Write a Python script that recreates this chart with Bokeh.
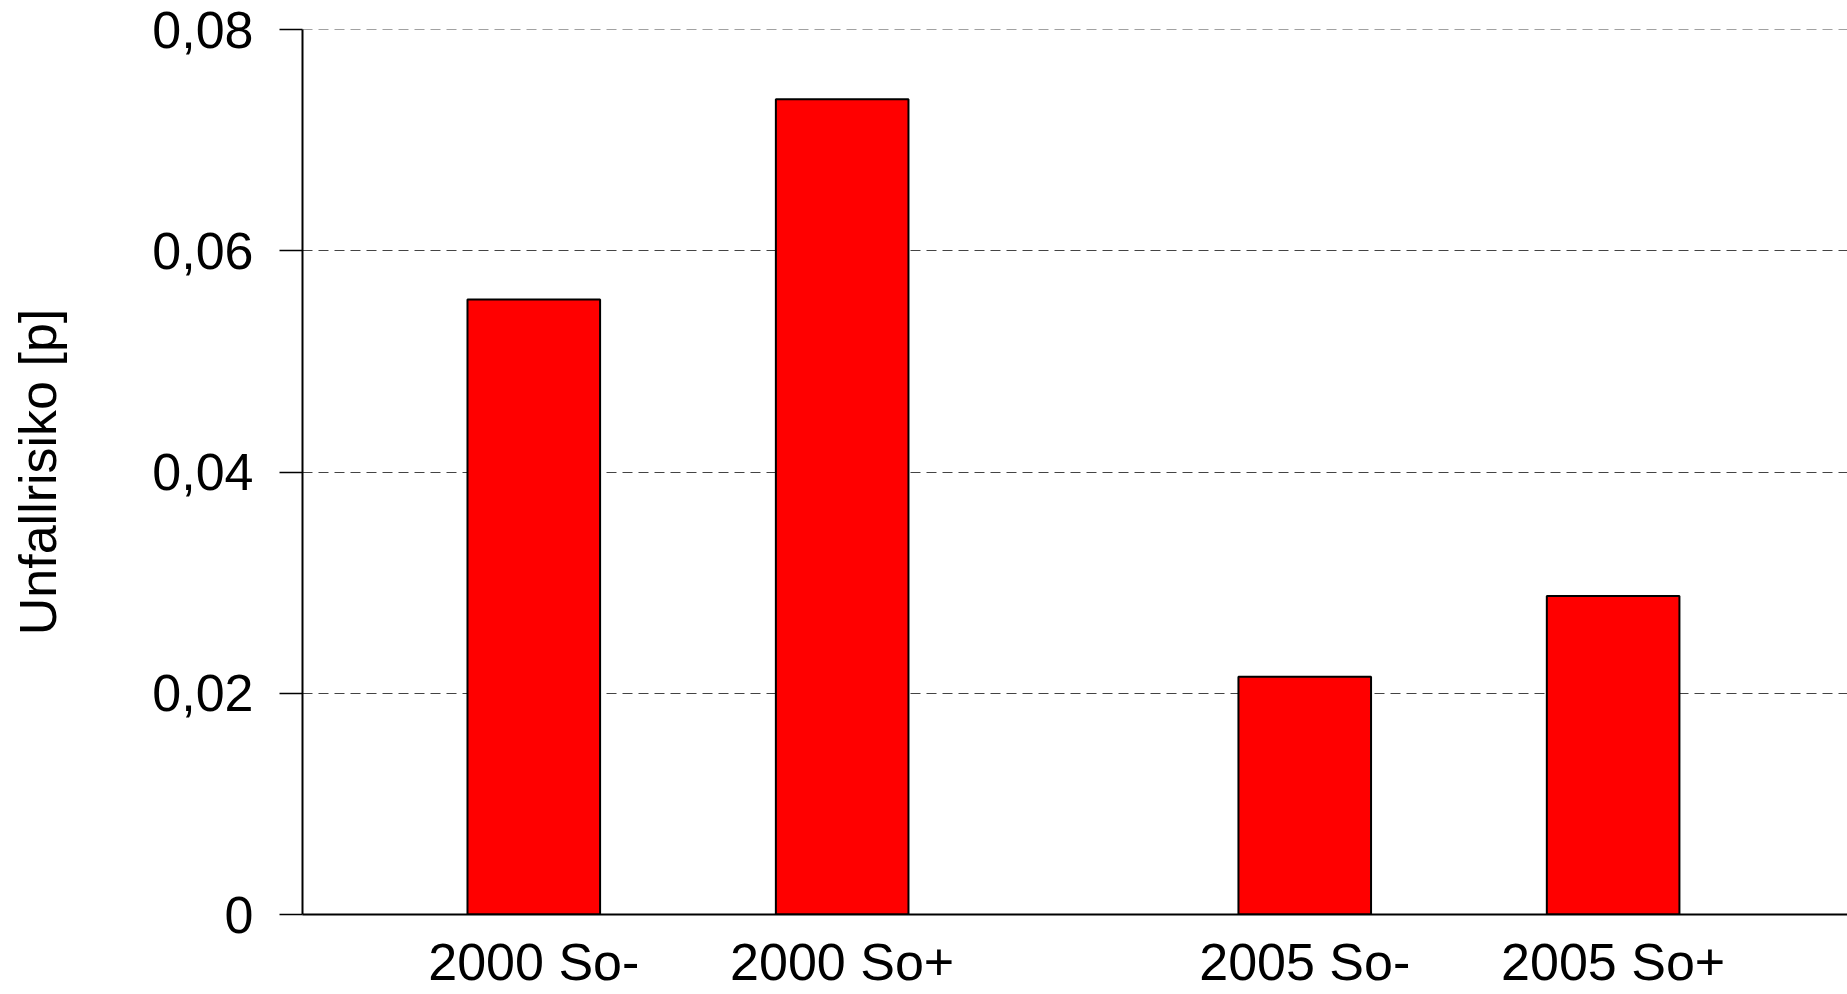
from bokeh.plotting import figure
from bokeh.models import FixedTicker, CustomJSTickFormatter, ColumnDataSource
from bokeh.embed import file_html
from bokeh.resources import INLINE

# ---- data ----
categories = ["2000 So-", "2000 So+", "2005 So-", "2005 So+"]
years = ["2000", "2000", "2005", "2005"]
values = [0.0556, 0.0737, 0.0215, 0.0288]
y_ticks = [0, 0.02, 0.04, 0.06, 0.08]
y_label = "Unfallrisiko [p]"

# positions: one unit per bar, an extra half unit between year groups
group_order = sorted(set(years))
positions = [i + 1 + 0.5 * group_order.index(y) for i, y in enumerate(years)]

FONT = "Liberation Sans"

src = ColumnDataSource(dict(x=positions, top=values, cat=categories))

p = figure(width=1847, height=994, output_backend="svg", toolbar_location=None,
           x_range=(0.25, 5.26), y_range=(0, 0.08001),
           min_border_left=302, min_border_right=0, min_border_top=29,
           min_border_bottom=80)
p.outline_line_color = None
p.background_fill_color = "white"
p.border_fill_color = "white"

p.vbar(x="x", top="top", width=0.43, bottom=0, source=src,
       fill_color="#ff0000", line_color="black", line_width=2)

# y axis
ya = p.yaxis[0]
ya.ticker = FixedTicker(ticks=y_ticks)
ya.formatter = CustomJSTickFormatter(code="""
    return tick == 0 ? "0" : tick.toFixed(2).replace(".", ",");
""")
ya.axis_label = y_label
ya.axis_label_text_font = FONT
ya.axis_label_text_font_size = "52px"
ya.axis_label_text_font_style = "normal"
ya.axis_label_text_color = "black"
ya.axis_label_standoff = 82
ya.major_label_text_font = FONT
ya.major_label_text_font_size = "52px"
ya.major_label_text_color = "black"
ya.major_label_standoff = 26
ya.major_tick_out = 23
ya.major_tick_in = 0
ya.major_tick_line_width = 1.5
ya.major_tick_line_color = "black"
ya.minor_tick_out = 0
ya.minor_tick_in = 0
ya.axis_line_width = 2
ya.axis_line_color = "black"

# x axis
xa = p.xaxis[0]
xa.ticker = FixedTicker(ticks=positions)
xa.major_label_overrides = {pos: lab for pos, lab in zip(positions, categories)}
xa.major_label_text_font = FONT
xa.major_label_text_font_size = "52px"
xa.major_label_text_color = "black"
xa.major_label_standoff = 18
xa.major_tick_out = 0
xa.major_tick_in = 0
xa.minor_tick_out = 0
xa.minor_tick_in = 0
xa.axis_line_width = 2
xa.axis_line_color = "black"

# grid
p.xgrid.grid_line_color = None
p.ygrid.ticker = FixedTicker(ticks=y_ticks)
p.ygrid.grid_line_color = "#444444"
p.ygrid.grid_line_width = 1
p.ygrid.grid_line_dash = "10 6"

open("out.html", "w").write(file_html(p, INLINE))
